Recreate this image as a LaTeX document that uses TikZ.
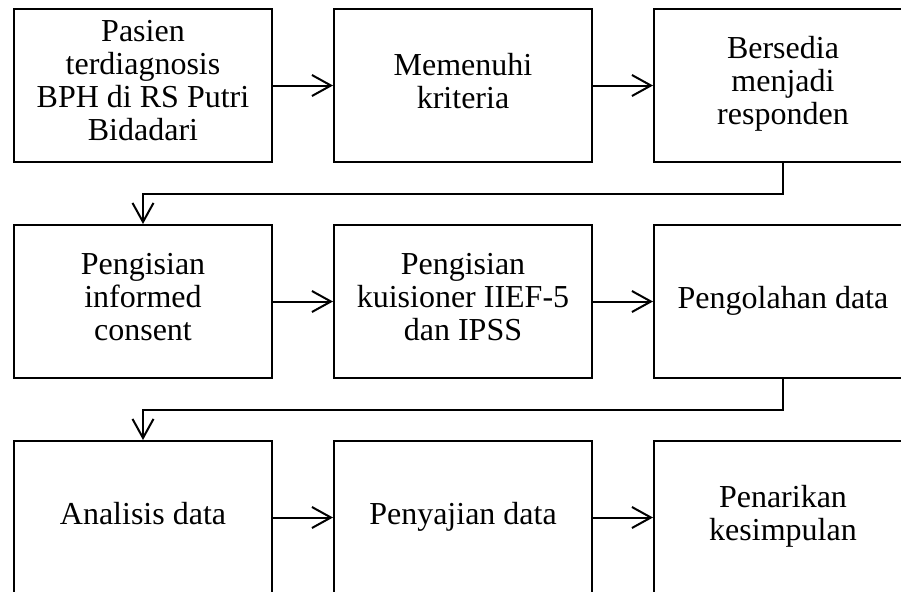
\documentclass[tikz,border=0pt]{standalone}
\usepackage{fontspec}
\setmainfont{Liberation Serif}
\usetikzlibrary{positioning,arrows.meta}

\begin{document}
\begin{tikzpicture}[
    box/.style={draw, line width=1pt, minimum width=129pt, minimum height=76.5pt,
        align=center, inner sep=2pt, font=\fontsize{16pt}{16.5pt}\selectfont,
        execute at begin node=\strut, execute at end node=\strut},
    flow/.style={line width=1pt, -{Straight Barb[length=9.5pt,width=10.5pt,line width=1pt]}},
    node distance=30.5pt and 30pt
]
\useasboundingbox (0,0) rectangle (450.5pt,-295.5pt);

% baris pertama
\node[box] (pasien) at (71.5pt,-42.75pt) {Pasien\\terdiagnosis\\BPH di RS Putri\\Bidadari};
\node[box, right=of pasien] (kriteria) {Memenuhi\\kriteria};
\node[box, right=of kriteria] (responden) {Bersedia\\menjadi\\responden};

% baris kedua
\node[box, below=of pasien] (consent) {Pengisian\\informed\\consent};
\node[box, right=of consent] (kuisioner) {Pengisian\\kuisioner IIEF-5\\dan IPSS};
\node[box, right=of kuisioner] (olah) {Pengolahan data};

% baris ketiga
\node[box, below=of consent] (analisis) {Analisis data};
\node[box, right=of analisis] (saji) {Penyajian data};
\node[box, right=of saji] (simpulan) {Penarikan\\kesimpulan};

\draw[flow] (pasien) -- (kriteria);
\draw[flow] (kriteria) -- (responden);
\draw[flow] (responden.south) -- ++(0,-15.25pt) -| (consent.north);
\draw[flow] (consent) -- (kuisioner);
\draw[flow] (kuisioner) -- (olah);
\draw[flow] (olah.south) -- ++(0,-15.25pt) -| (analisis.north);
\draw[flow] (analisis) -- (saji);
\draw[flow] (saji) -- (simpulan);
\end{tikzpicture}
\end{document}
